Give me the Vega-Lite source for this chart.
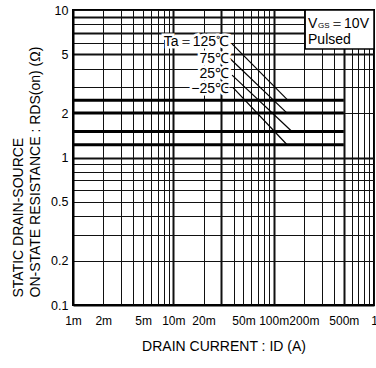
{
  "$schema": "https://vega.github.io/schema/vega-lite/v6.json",
  "width": 301,
  "height": 295,
  "autosize": {"type": "none"},
  "padding": {"left": 73, "top": 10, "right": 2, "bottom": 63},
  "background": "white",
  "config": {
    "view": {"stroke": "black", "strokeWidth": 2},
    "font": "Liberation Sans",
    "axis": {
      "labelColor": "black",
      "titleColor": "black",
      "labelFont": "Liberation Sans",
      "titleFont": "Liberation Sans",
      "titleFontWeight": "normal",
      "domainColor": "black",
      "ticks": false,
      "gridColor": "#111",
      "gridOpacity": 1,
      "labelOverlap": false,
      "labelFlush": false
    }
  },
  "datasets": {
    "curves": [
      {"temp": "125", "id": 0.001, "r": 2.44}, {"temp": "125", "id": 0.5, "r": 2.44},
      {"temp": "75", "id": 0.001, "r": 2.0}, {"temp": "75", "id": 0.5, "r": 2.0},
      {"temp": "25", "id": 0.001, "r": 1.5}, {"temp": "25", "id": 0.5, "r": 1.5},
      {"temp": "-25", "id": 0.001, "r": 1.22}, {"temp": "-25", "id": 0.5, "r": 1.22}
    ],
    "leaders": [
      {"temp": "125", "id": 0.0385, "r": 5.89}, {"temp": "125", "id": 0.139, "r": 2.44},
      {"temp": "75", "id": 0.0367, "r": 4.69}, {"temp": "75", "id": 0.136, "r": 2.0},
      {"temp": "25", "id": 0.0385, "r": 3.62}, {"temp": "25", "id": 0.152, "r": 1.5},
      {"temp": "-25", "id": 0.0394, "r": 2.98}, {"temp": "-25", "id": 0.136, "r": 1.22}
    ],
    "labels": [
      {"t": "Ta＝125℃", "id": 0.0359, "r": 6.07},
      {"t": "75℃", "id": 0.0359, "r": 4.69},
      {"t": "25℃", "id": 0.0359, "r": 3.68},
      {"t": "−25℃", "id": 0.0359, "r": 2.93}
    ]
  },
  "layer": [
    {
      "data": {"name": "curves"},
      "mark": {"type": "line", "color": "black", "strokeWidth": 3},
      "encoding": {
        "x": {
          "field": "id", "type": "quantitative",
          "scale": {"type": "log", "domain": [0.001, 1], "nice": false},
          "axis": {
            "title": "DRAIN  CURRENT : ID  (A)",
            "titleFontSize": 14,
            "titlePadding": 13,
            "labelFontSize": 12,
            "labelPadding": 10,
            "grid": true,
            "gridWidth": {"condition": {"test": "indexof([0.01,0.03,0.1,0.5], datum.value) >= 0", "value": 2}, "value": 1},
            "domainWidth": 2,
            "values": [0.001,0.002,0.003,0.004,0.005,0.006,0.007,0.008,0.009,0.01,0.02,0.03,0.04,0.05,0.06,0.07,0.08,0.09,0.1,0.2,0.3,0.4,0.5,0.6,0.7,0.8,0.9,1],
            "labelExpr": "indexof([1,2,5,10,20,50,100,200,500], round(datum.value*1000)) >= 0 ? round(datum.value*1000) + 'm' : (round(datum.value*1000) == 1000 ? '1' : '')"
          }
        },
        "y": {
          "field": "r", "type": "quantitative",
          "scale": {"type": "log", "domain": [0.1, 10], "nice": false},
          "axis": {
            "title": ["STATIC DRAIN-SOURCE", "ON-STATE RESISTANCE : RDS(on)  (Ω)"],
            "titleFontSize": 14,
            "titleLineHeight": 17,
            "titleAngle": -90,
            "titleAlign": "left",
            "titleBaseline": "middle",
            "titleX": -55,
            "titleY": 287,
            "labelFontSize": 12.5,
            "labelPadding": 5,
            "grid": true,
            "gridWidth": {"condition": {"test": "indexof([1,5,7,9], datum.value) >= 0", "value": 2}, "value": 1},
            "domainWidth": 2,
            "values": [0.1,0.2,0.3,0.4,0.5,0.6,0.7,0.8,0.9,1,2,3,4,5,6,7,8,9,10],
            "labelExpr": "indexof([0.1,0.2,0.5,1,2,5,10], datum.value) >= 0 ? datum.label : ''"
          }
        },
        "detail": {"field": "temp"}
      }
    },
    {
      "data": {"name": "leaders"},
      "mark": {"type": "line", "color": "black", "strokeWidth": 1.2},
      "encoding": {
        "x": {"field": "id", "type": "quantitative", "scale": {"type": "log"}},
        "y": {"field": "r", "type": "quantitative", "scale": {"type": "log"}},
        "detail": {"field": "temp"}
      }
    },
    {
      "data": {"name": "labels"},
      "mark": {"type": "text", "align": "right", "baseline": "middle", "fontSize": 14, "font": "Liberation Sans", "stroke": "white", "strokeWidth": 5, "fill": "white"},
      "encoding": {
        "x": {"field": "id", "type": "quantitative", "scale": {"type": "log"}},
        "y": {"field": "r", "type": "quantitative", "scale": {"type": "log"}},
        "text": {"field": "t"}
      }
    },
    {
      "data": {"name": "labels"},
      "mark": {"type": "text", "align": "right", "baseline": "middle", "fontSize": 14, "font": "Liberation Sans", "color": "black"},
      "encoding": {
        "x": {"field": "id", "type": "quantitative", "scale": {"type": "log"}},
        "y": {"field": "r", "type": "quantitative", "scale": {"type": "log"}},
        "text": {"field": "t"}
      }
    },
    {
      "data": {"values": [{"x1": 0.206, "x2": 1, "y1": 5.45, "y2": 10}]},
      "mark": {"type": "rect", "fill": "white", "stroke": "black", "strokeWidth": 1.5},
      "encoding": {
        "x": {"field": "x1", "type": "quantitative", "scale": {"type": "log"}},
        "x2": {"field": "x2"},
        "y": {"field": "y1", "type": "quantitative", "scale": {"type": "log"}},
        "y2": {"field": "y2"}
      }
    },
    {
      "data": {"values": [
        {"t": "V", "id": 0.22, "r": 7.6},
        {"t": "＝10V", "id": 0.365, "r": 7.6},
        {"t": "Pulsed", "id": 0.22, "r": 5.9}
      ]},
      "mark": {"type": "text", "align": "left", "baseline": "alphabetic", "fontSize": 14, "font": "Liberation Sans", "color": "black"},
      "encoding": {
        "x": {"field": "id", "type": "quantitative", "scale": {"type": "log"}},
        "y": {"field": "r", "type": "quantitative", "scale": {"type": "log"}},
        "text": {"field": "t"}
      }
    },
    {
      "data": {"values": [{"t": "GS", "id": 0.277, "r": 7.6}]},
      "mark": {"type": "text", "align": "left", "baseline": "alphabetic", "fontSize": 8, "font": "Liberation Sans", "color": "black"},
      "encoding": {
        "x": {"field": "id", "type": "quantitative", "scale": {"type": "log"}},
        "y": {"field": "r", "type": "quantitative", "scale": {"type": "log"}},
        "text": {"field": "t"}
      }
    }
  ]
}
